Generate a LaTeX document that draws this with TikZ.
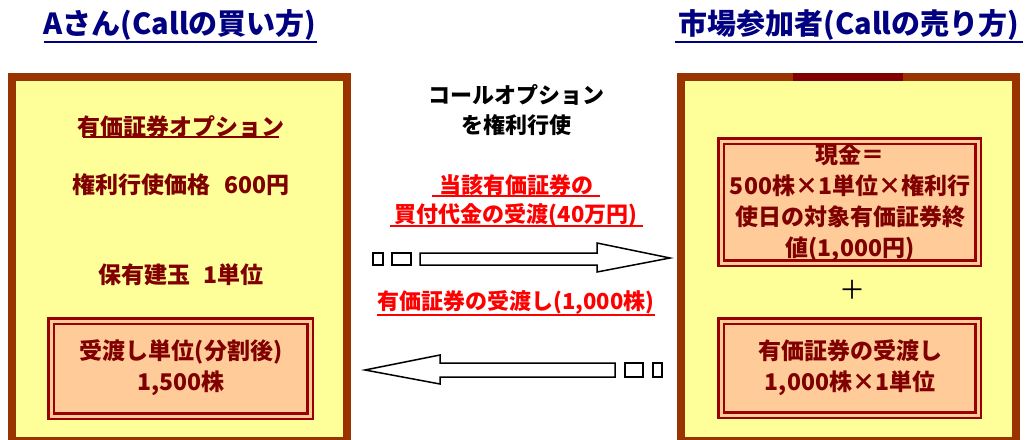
\documentclass[tikz,border=0pt]{standalone}
\usepackage{fontspec}
\newfontfamily\jp{Noto Sans CJK JP}
\definecolor{panelbrown}{HTML}{993300}
\definecolor{maroonA}{HTML}{800000}
\definecolor{boxred}{HTML}{990000}
\definecolor{yel}{HTML}{FFFF99}
\definecolor{peach}{HTML}{FFCC99}
\definecolor{navyA}{HTML}{000080}
\tikzset{
  panel/.style={draw=panelbrown, line width=8pt, fill=yel},
  dbox/.style={draw=boxred, line width=2.5pt, double=peach, double distance=3pt, fill=peach},
  ptext/.style={text=maroonA, font=\jp\bfseries\fontsize{23}{31}\selectfont, align=center, inner sep=0pt},
  ctext/.style={text=black, font=\jp\bfseries\fontsize{22}{30}\selectfont, align=center, inner sep=0pt},
  rtext/.style={text=red, font=\jp\bfseries\fontsize{22}{30}\selectfont, align=center, inner sep=0pt},
  ttext/.style={text=navyA, font=\jp\bfseries\fontsize{29}{32}\selectfont, inner sep=0pt},
  arrowshape/.style={draw=black, line width=1.5pt, fill=white, line join=miter},
}
\begin{document}
\begin{tikzpicture}[x=1pt,y=-1pt]
\useasboundingbox (0,0) rectangle (1025,439);
\clip (0,0) rectangle (1025,439);
% titles
\node[ttext] (tl) at (180,25) {Aさん(Callの買い方)};
\draw[navyA, line width=2.5pt] (44,42) -- (317,42);
\node[ttext] (tr) at (849,25) {市場参加者(Callの売り方)};
\draw[navyA, line width=2.5pt] (675,42) -- (1023,42);
% panels
\draw[panel] (12,77) rectangle (347,441);
\draw[panel] (681,77) rectangle (1016,441);
\fill[maroonA] (793,73) rectangle (903,81);
% left panel content
\node[ptext] (opt) at (181,127) {有価証券オプション};
\draw[maroonA, line width=2pt] (83,137) -- (279,137);
\node[ptext] (price) at (181,185) {権利行使価格\hspace{0.6em}600円};
\node[ptext] (pos) at (181,275) {保有建玉\hspace{0.6em}1単位};
\draw[dbox] (51,321) rectangle (310,416);
\node[ptext] (unit) at (181,368) {受渡し単位(分割後)\\1,500株};
% right panel content
\draw[dbox] (721,141) rectangle (978,263);
\node[ptext] (cash) at (850,203) {現金＝\\500株×1単位×権利行\\使日の対象有価証券終\\値(1,000円)};
\node[text=black, font=\jp\fontsize{26}{30}\selectfont, inner sep=0pt] (plus) at (852,290) {＋};
\draw[dbox] (721,321) rectangle (978,415);
\node[ptext] (deliv) at (850,368) {有価証券の受渡し\\1,000株×1単位};
% center
\node[ctext] (exer) at (516,110) {コールオプション\\を権利行使};
\node[rtext] (pay1) at (516,185) {当該有価証券の};
\draw[red, line width=2pt] (432,196) -- (600,196);
\node[rtext] (pay2) at (516,215) {買付代金の受渡(40万円)};
\draw[red, line width=2pt] (390,226) -- (643,226);
\node[rtext] (sec) at (516,303) {有価証券の受渡し(1,000株)};
\draw[red, line width=2pt] (377,315) -- (655,315);
% right arrow
\draw[arrowshape] (373,253) rectangle (383,265);
\draw[arrowshape] (392,253) rectangle (411,265);
\draw[arrowshape] (420,253) -- (597,253) -- (597,243) -- (670,258) -- (597,272) -- (597,265) -- (420,265) -- cycle;
% left arrow
\draw[arrowshape] (653,363) rectangle (662,377);
\draw[arrowshape] (625,363) rectangle (643,377);
\draw[arrowshape] (615,363) -- (440,363) -- (440,355) -- (365,370) -- (440,384) -- (440,377) -- (615,377) -- cycle;
\end{tikzpicture}
\end{document}
